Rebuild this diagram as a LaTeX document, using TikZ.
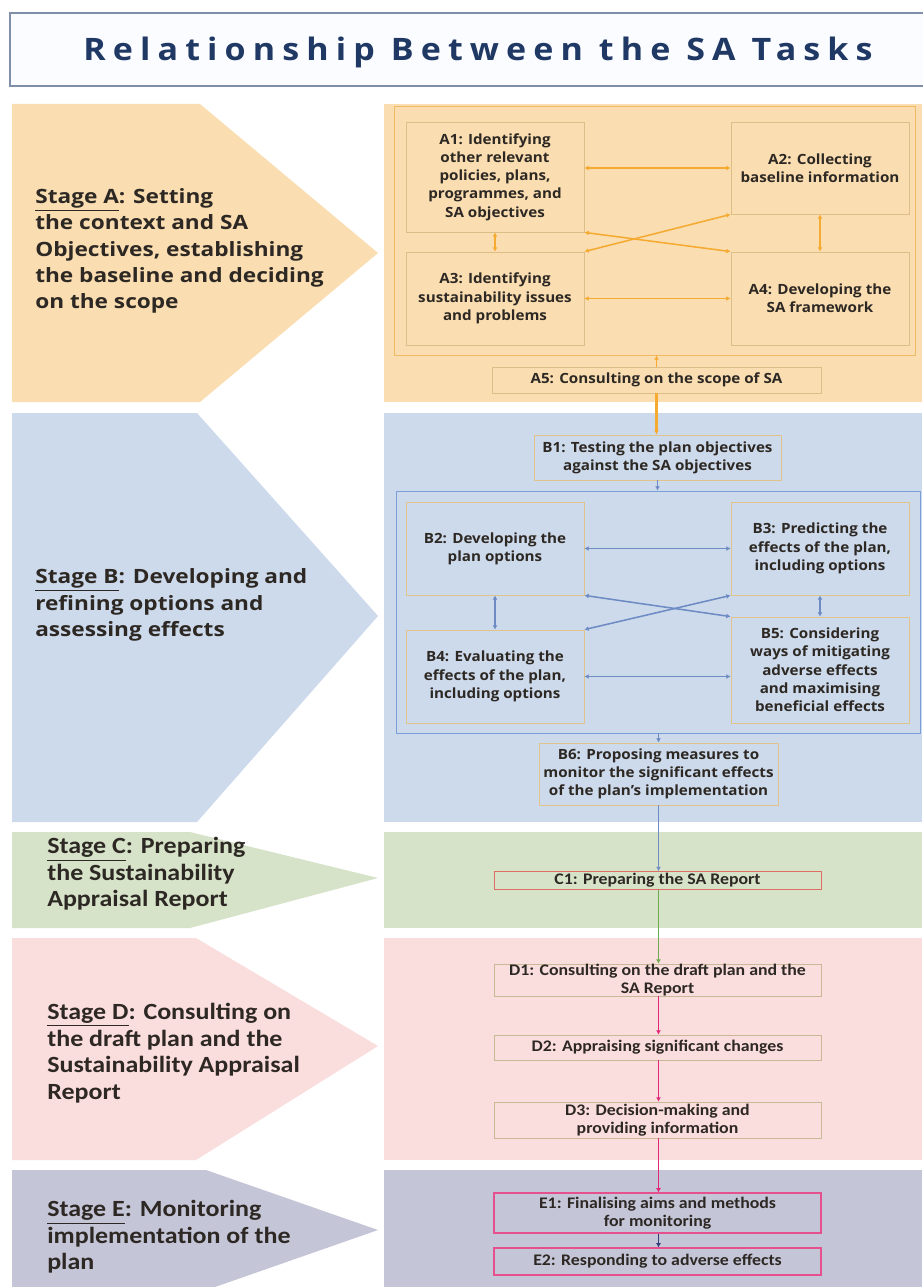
\documentclass[tikz,border=0pt]{standalone}
\usepackage{fontspec}
\setmainfont{Open Sans}
\newfontfamily\boxface[FakeStretch=1.08]{Open Sans}
\newfontfamily\stageface[FakeStretch=1.15]{Open Sans}
\newfontfamily\condlabface[FakeStretch=1.12]{Carlito}
\newfontfamily\condboxface[FakeStretch=1.1]{Carlito}
\newfontfamily\titlefont[FakeStretch=1.1,LetterSpace=23]{Open Sans}
\usetikzlibrary{arrows.meta}
\newcommand\pxu{0.025cm}
\definecolor{txt}{RGB}{45,40,35}
\definecolor{titlec}{RGB}{31,56,100}
\definecolor{titleb}{RGB}{127,143,168}
\definecolor{Apan}{RGB}{250,222,178}
\definecolor{Aframe}{RGB}{240,185,100}
\definecolor{Abox}{RGB}{222,190,135}
\definecolor{Aarr}{RGB}{245,170,50}
\definecolor{Bpan}{RGB}{205,218,235}
\definecolor{Bframe}{RGB}{120,160,215}
\definecolor{Bbox}{RGB}{225,195,140}
\definecolor{Barr}{RGB}{110,140,195}
\definecolor{Cpan}{RGB}{214,227,201}
\definecolor{Cbox}{RGB}{220,110,100}
\definecolor{Carr}{RGB}{110,170,80}
\definecolor{Dpan}{RGB}{250,221,221}
\definecolor{Dbox}{RGB}{200,185,150}
\definecolor{Darr}{RGB}{225,40,120}
\definecolor{Epan}{RGB}{197,197,216}
\definecolor{Ebox}{RGB}{230,80,140}
\definecolor{Earr}{RGB}{50,60,120}
\newcommand\boxfont{\boxface\bfseries\fontsize{10}{13}\selectfont}
\newcommand\condboxfont{\condboxface\bfseries\fontsize{11.5}{12.5}\selectfont}
\tikzset{
  tbox/.style={draw=#1, line width=0.6pt, inner sep=0pt, align=center, text=txt, font=\boxfont},
  cdbox/.style={draw=#1, line width=0.6pt, inner sep=0pt, align=center, text=txt, font=\condboxfont},
  frm/.style={draw=#1, line width=0.7pt, inner sep=0pt},
  wh/.style 2 args={minimum width=#1*\pxu, minimum height=#2*\pxu},
  twoway/.style={draw=#1, line width=1.1pt, {Latex[length=3pt,width=3.5pt]}-{Latex[length=3pt,width=3.5pt]}},
  oneway/.style={draw=#1, line width=1.1pt, -{Latex[length=3pt,width=3.5pt]}},
  stagelab/.style={anchor=west, align=left, inner sep=0pt, text=txt, font=\stageface\bfseries\fontsize{14}{18.8}\selectfont},
  condlab/.style={anchor=west, align=left, inner sep=0pt, text=txt, font=\condlabface\bfseries\fontsize{16.5}{18.8}\selectfont},
}
\begin{document}
\begin{tikzpicture}[x=0.025cm,y=-0.025cm]
\useasboundingbox (0,0) rectangle (922,1287);
\fill[white] (0,0) rectangle (922,1287);
% title
\draw[draw=titleb, line width=1.3pt, fill={rgb,255:red,250;green,252;blue,255}] (10,13) rectangle (930,86);
\node[anchor=base, text=titlec, font=\titlefont\bfseries\fontsize{22}{26}\selectfont, inner sep=0pt] (title) at (478,61) {Relationship Between the SA Tasks};
% stage shapes
\fill[Apan] (12,104) -- (200,104) -- (378,253) -- (200,402) -- (12,402) -- cycle;
\fill[Apan] (384,104) rectangle (922,402);
\fill[Bpan] (12,413) -- (197,413) -- (378,616) -- (197,822) -- (12,822) -- cycle;
\fill[Bpan] (384,413) rectangle (922,822);
\fill[Cpan] (12,832) -- (190,832) -- (378,878) -- (190,928) -- (12,928) -- cycle;
\fill[Cpan] (384,832) rectangle (922,928);
\fill[Dpan] (12,938) -- (196,938) -- (378,1046) -- (196,1160) -- (12,1160) -- cycle;
\fill[Dpan] (384,938) rectangle (922,1160);
\fill[Epan] (12,1170) -- (206,1170) -- (378,1230) -- (215,1287) -- (12,1287) -- cycle;
\fill[Epan] (384,1170) rectangle (922,1287);
% stage labels
\node[stagelab] (la) at (35,251) {\underline{Stage A}: Setting\\the context and SA\\Objectives, establishing\\the baseline and deciding\\on the scope};
\node[stagelab] (lb) at (35,605) {\underline{Stage B}: Developing and\\refining options and\\assessing effects};
\node[condlab] (lc) at (47,874) {\underline{Stage C}: Preparing\\the Sustainability\\Appraisal Report};
\node[condlab] (ld) at (47,1053) {\underline{Stage D}: Consulting on\\the draft plan and the\\Sustainability Appraisal\\Report};
\node[condlab] (le) at (47,1237) {\underline{Stage E}: Monitoring\\implementation of the\\plan};
% stage A
\node[frm=Aframe, wh={521}{249}] (fA) at (654.5,230.5) {};
\node[tbox=Abox, wh={178}{110}] (a1) at (495,177) {A1: Identifying\\other relevant\\policies, plans,\\programmes, and\\SA objectives};
\node[tbox=Abox, wh={178}{92}] (a2) at (820,168) {A2: Collecting\\baseline information};
\node[tbox=Abox, wh={178}{93}] (a3) at (495,298.5) {A3: Identifying\\sustainability issues\\and problems};
\node[tbox=Abox, wh={178}{93}] (a4) at (820,298.5) {A4: Developing the\\SA framework};
\node[tbox=Abox, wh={329}{26}] (a5) at (656.5,380) {A5: Consulting on the scope of SA};
\draw[twoway=Aarr] (a1.east |- a2.west) -- (a2.west);
\draw[twoway=Aarr] (a3.east) -- (a4.west);
\draw[twoway=Aarr] (a1.south) -- (a3.north);
\draw[twoway=Aarr] (a2.south) -- (a4.north);
\draw[twoway=Aarr] (a1.south east) -- (a4.north west);
\draw[twoway=Aarr] (a3.north east) -- (a2.south west);
\draw[oneway=Aarr, line width=0.8pt] (a5.north) -- (a5.north |- fA.south);
% stage B
\node[tbox=Bbox, wh={247}{45}] (b1) at (657.5,457.5) {B1: Testing the plan objectives\\against the SA objectives};
\node[frm=Bframe, wh={524}{242}] (fB) at (658,612) {};
\node[tbox=Bbox, wh={178}{93}] (b2) at (495,548.5) {B2: Developing the\\plan options};
\node[tbox=Bbox, wh={178}{93}] (b3) at (820,548.5) {B3: Predicting the\\effects of the plan,\\including options};
\node[tbox=Bbox, wh={178}{93}] (b4) at (495,676.5) {B4: Evaluating the\\effects of the plan,\\including options};
\node[tbox=Bbox, wh={178}{106}] (b5) at (820,670) {B5: Considering\\ways of mitigating\\adverse effects\\and maximising\\beneficial effects};
\node[tbox=Bbox, wh={239}{62}] (b6) at (658.5,774) {B6: Proposing measures to\\monitor the significant effects\\of the plan’s implementation};
\draw[oneway=Aarr, line width=2pt] (a5.south) -- (b1.north -| a5.south);
\draw[oneway=Barr, line width=0.8pt] (b1.south) -- (b1.south |- fB.north);
\draw[oneway=Barr, line width=0.8pt] (fB.south -| b6.north) -- (b6.north);
\draw[twoway=Barr] (b2.east) -- (b3.west);
\draw[twoway=Barr] (b4.east) -- (b4.east -| b5.west);
\draw[twoway=Barr] (b2.south) -- (b4.north);
\draw[twoway=Barr] (b3.south) -- (b5.north);
\draw[twoway=Barr] (b2.south east) -- (b5.north west);
\draw[twoway=Barr] (b4.north east) -- (b3.south west);
% stage C
\node[cdbox=Cbox, wh={327}{18}] (c1) at (657.5,880.5) {C1: Preparing the SA Report};
\draw[oneway=Barr, line width=0.9pt] (b6.south) -- (c1.north -| b6.south);
% stage D
\node[cdbox=Dbox, wh={327}{32}] (d1) at (657.5,980) {D1: Consulting on the draft plan and the\\SA Report};
\node[cdbox=Dbox, wh={327}{25}] (d2) at (657.5,1047.5) {D2: Appraising significant changes};
\node[cdbox=Dbox, wh={327}{36}] (d3) at (657.5,1120) {D3: Decision-making and\\providing information};
\draw[oneway=Carr, line width=0.9pt] (c1.south -| b6.south) -- (d1.north -| b6.south);
\draw[oneway=Darr, line width=0.9pt] (d1.south -| b6.south) -- (d2.north -| b6.south);
\draw[oneway=Darr, line width=0.9pt] (d2.south -| b6.south) -- (d3.north -| b6.south);
% stage E
\node[cdbox=Ebox, line width=0.8pt, wh={327}{40}] (e1) at (657.5,1213) {E1: Finalising aims and methods\\for monitoring};
\node[cdbox=Ebox, line width=0.8pt, wh={327}{27}] (e2) at (657.5,1261.5) {E2: Responding to adverse effects};
\draw[oneway=Darr, line width=0.9pt] (d3.south -| b6.south) -- (e1.north -| b6.south);
\draw[oneway=Earr, line width=0.9pt] (e1.south -| b6.south) -- (e2.north -| b6.south);
\end{tikzpicture}
\end{document}
